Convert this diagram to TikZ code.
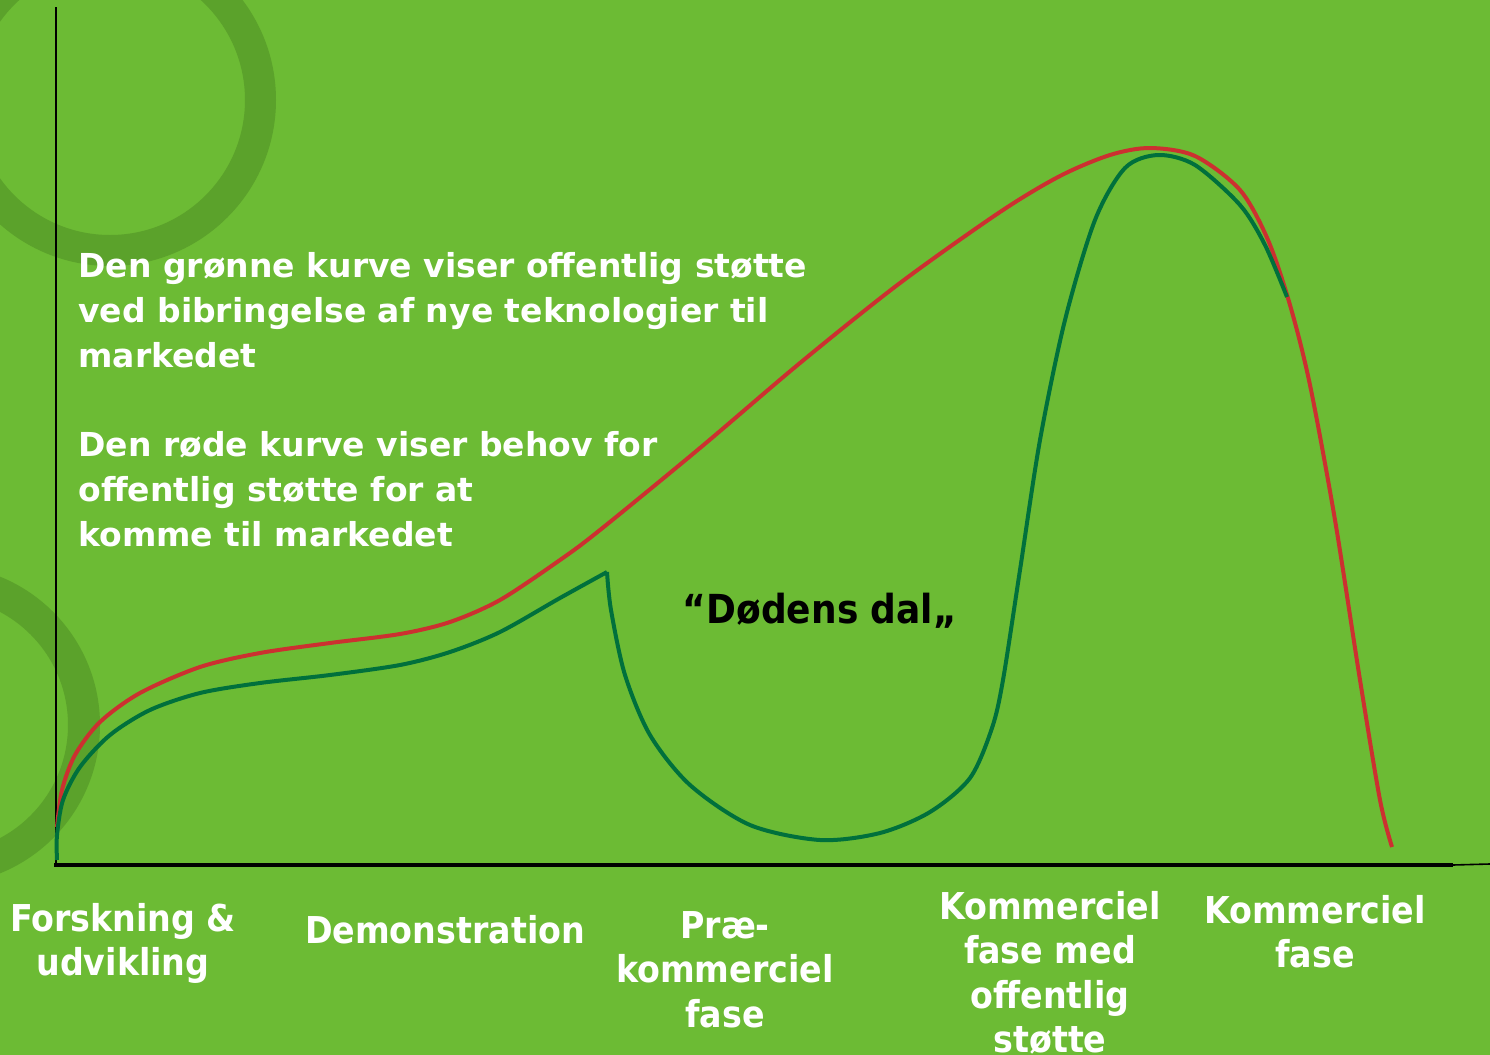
\documentclass[tikz,border=0pt]{standalone}
\usepackage{fontspec}
\setmainfont{DejaVu Sans Condensed}[BoldFont={DejaVu Sans Condensed Bold}]
\newfontfamily\widefont{DejaVu Sans}[BoldFont={DejaVu Sans Bold}]
\definecolor{bg}{HTML}{6CBB34}
\definecolor{ring}{HTML}{5BA22B}
\definecolor{redc}{HTML}{CC3030}
\definecolor{greenc}{HTML}{00703C}
\begin{document}
\begin{tikzpicture}[x=0.5pt,y=-0.5pt,
  curve/.style={line width=2pt, line cap=butt},
  infotext/.style={inner sep=0pt, text=white, align=left, font=\widefont\bfseries\fontsize{16.5}{22.5}\selectfont},
  phase/.style={inner sep=0pt, text=white, align=center, font=\bfseries\fontsize{18.5}{22.2}\selectfont},
  axisline/.style={draw=black}]
\fill[bg] (0,0) rectangle (1490,1055);
\useasboundingbox (0,0) rectangle (1490,1055);
% decorative rings
\begin{scope}
\clip (0,0) rectangle (1490,1055);
\fill[ring,even odd rule] (110,100) circle[radius=166] (110,100) circle[radius=135];
\fill[ring,even odd rule] (-60,725) circle[radius=160] (-60,725) circle[radius=128];
\end{scope}
% axes
\coordinate (ytop) at (56,7);
\coordinate (origin) at (56,866);
\coordinate (xend) at (1453,865);
\coordinate (xfar) at (1490,864);
\draw[axisline, line width=1pt] (ytop) -- (origin);
\draw[axisline, line width=2pt] (54,865) -- (xend);
\draw[axisline, line width=0.8pt] (xend) -- (xfar);
% red curve
\draw[curve, redc] plot[smooth, tension=0.5] coordinates {
(57,827) (62,790) (75,755) (100,722) (140,693) (200,667) (260,653) (330,643) (400,634) (450,622) (500,600) (560,560) (600,530) (700,448) (800,363) (900,283) (1000,212) (1060,176) (1110,155) (1150,148) (1195,156) (1240,190) (1268,240) (1290,305) (1310,385) (1335,520) (1360,680) (1380,800) (1392,847)};
% green curve
\draw[curve, greenc] plot[smooth, tension=0.5] coordinates {
(57,860) (57,835) (63,800) (80,767) (110,735) (150,710) (200,693) (260,683) (330,675) (400,665) (450,652) (500,632) (560,598) (607,572)};
\draw[curve, greenc, line join=round] plot[smooth, tension=0.5] coordinates {
(607,572) (611,610) (625,675) (650,735) (690,785) (750,825) (820,840) (880,833) (930,812) (970,778) (992,728) (1003,680) (1020,570) (1040,440) (1065,320) (1095,220) (1125,168) (1158,155) (1195,165) (1240,205) (1265,245) (1287,297)};
% texts
\node[infotext, anchor=north west] (green) at (78,252) {Den grønne kurve viser offentlig støtte\\ved bibringelse af nye teknologier til\\markedet};
\node[infotext, anchor=north west] (red) at (78,431) {Den røde kurve viser behov for\\offentlig støtte for at\\komme til markedet};
\node[inner sep=0pt, text=black, font=\bfseries\fontsize{20}{24}\selectfont, anchor=base] (dal) at (820,623) {“Dødens dal„};
% phase labels
\node[phase, anchor=north] (fu) at (123,903) {Forskning \&\\udvikling};
\node[phase, anchor=north] (demo) at (445,915) {Demonstration};
\node[phase, anchor=north] (pre) at (725,911) {Præ-\\kommerciel\\fase};
\node[phase, anchor=north] (kfo) at (1050,891) {Kommerciel\\fase med\\offentlig\\støtte};
\node[phase, anchor=north] (kf) at (1315,895) {Kommerciel\\fase};
\end{tikzpicture}
\end{document}
